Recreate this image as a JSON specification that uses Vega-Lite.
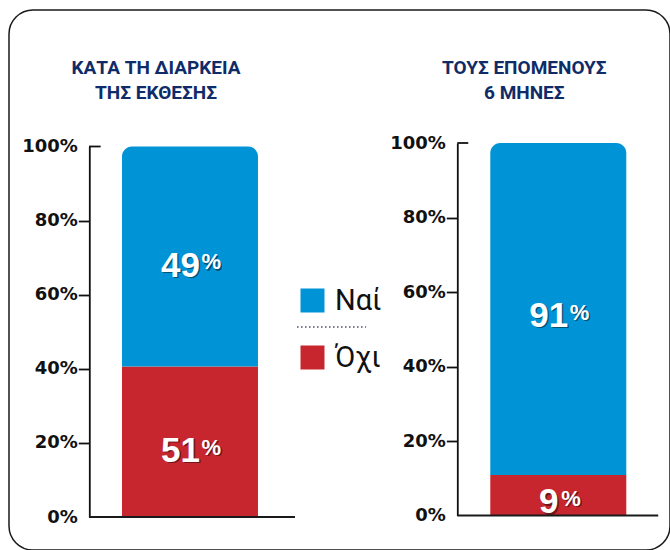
{
  "$schema": "https://vega.github.io/schema/vega-lite/v6.json",
  "width": 661,
  "height": 540,
  "autosize": {"type": "none"},
  "padding": {"left": 9, "top": 10, "right": 0, "bottom": 0},
  "background": "white",
  "config": {"view": {"stroke": "#1a1a1a", "strokeWidth": 1.5, "cornerRadius": 24}},
  "datasets": {
    "bars": [
      {"group": "Κατά τη διάρκεια της έκθεσης", "answer": "Ναί", "value": 59.4, "label": "49"},
      {"group": "Κατά τη διάρκεια της έκθεσης", "answer": "Όχι", "value": 40.6, "label": "51"},
      {"group": "Τους επόμενους 6 μήνες", "answer": "Ναί", "value": 89.1, "label": "91"},
      {"group": "Τους επόμενους 6 μήνες", "answer": "Όχι", "value": 10.9, "label": "9"}
    ],
    "titles": [
      {"group": "Κατά τη διάρκεια της έκθεσης", "title": "ΚΑΤΑ ΤΗ ΔΙΑΡΚΕΙΑ\nΤΗΣ ΕΚΘΕΣΗΣ"},
      {"group": "Τους επόμενους 6 μήνες", "title": "ΤΟΥΣ ΕΠΟΜΕΝΟΥΣ\n6 ΜΗΝΕΣ"}
    ]
  },
  "layer": [
    {
      "layer": [
        {
          "data": {"name": "bars"},
          "transform": [
            {"filter": "datum.group == 'Κατά τη διάρκεια της έκθεσης'"},
            {"stack": "value", "groupby": ["group"], "sort": [{"field": "answer", "order": "ascending"}], "as": ["y0", "y1"]}
          ],
          "encoding": {
            "x": {"field": "group", "type": "nominal", "axis": null,
              "scale": {"domain": ["Κατά τη διάρκεια της έκθεσης", "Υπόμνημα", "Τους επόμενους 6 μήνες"], "paddingInner": 0.2615, "paddingOuter": 0.4255, "align": 0.721}},
            "y": {"field": "y1", "type": "quantitative",
              "scale": {"domain": [0, 100], "range": [507, 136.5]},
              "axis": {"orient": "left", "offset": -80.3, "values": [0, 20, 40, 60, 80, 100], "labelExpr": "datum.value + '%'", "title": null, "grid": false,
                "domainColor": "#111111", "domainWidth": 1.8, "tickColor": "#111111", "tickWidth": 1.8, "tickSize": 11,
                "tickOpacity": {"condition": {"test": "datum.value == 0 || datum.value == 100", "value": 0}, "value": 1},
                "labelFont": "DejaVu Sans", "labelFontWeight": "bold", "labelFontSize": 18, "labelColor": "#111111", "labelPadding": 1, "labelAlign": "right", "labelFlush": false, "labelOverlap": false}},
            "y2": {"field": "y0"},
            "color": {"field": "answer", "type": "nominal",
              "scale": {"domain": ["Ναί", "Όχι"], "range": ["#0093d6", "#c8262e"]},
              "legend": {"orient": "none", "legendX": 289, "legendY": 276, "title": null, "symbolType": "square", "symbolSize": 576, "symbolStrokeWidth": 0, "symbolOpacity": 1,
                "labelFont": "Roboto", "labelFontSize": 29, "labelColor": "#111111", "labelOffset": 8, "labelLimit": 300, "rowPadding": 27, "padding": 0}}
          },
          "layer": [
            {"transform": [{"filter": "datum.answer == 'Όχι'"}], "mark": {"type": "bar"}},
            {"transform": [{"filter": "datum.answer == 'Ναί'"}], "mark": {"type": "bar", "cornerRadiusTopLeft": 10, "cornerRadiusTopRight": 10}}
          ]
        },
        {
          "data": {"name": "bars"},
          "transform": [
            {"filter": "datum.group == 'Κατά τη διάρκεια της έκθεσης'"},
            {"stack": "value", "groupby": ["group"], "sort": [{"field": "answer", "order": "ascending"}], "as": ["y0", "y1"]},
            {"fold": ["y0", "y1"], "as": ["edge", "pos"]}
          ],
          "encoding": {
            "x": {"field": "group", "type": "nominal"},
            "y": {"aggregate": "mean", "field": "pos", "type": "quantitative"},
            "detail": {"field": "label", "type": "nominal"}
          },
          "layer": [
            {"mark": {"type": "text", "font": "Liberation Sans", "fontWeight": "bold", "fontSize": 35, "baseline": "middle", "align": "center", "dx": -8, "dy": 10.5, "fill": "#000000", "fillOpacity": 0.45}, "encoding": {"text": {"field": "label"}}},
            {"mark": {"type": "text", "font": "Liberation Sans", "fontWeight": "bold", "fontSize": 35, "baseline": "middle", "align": "center", "dx": -9.5, "dy": 9, "fill": "#ffffff"}, "encoding": {"text": {"field": "label"}}},
            {"mark": {"type": "text", "font": "Liberation Sans", "fontWeight": "bold", "fontSize": 22, "baseline": "middle", "align": "left", "dx": {"expr": "length(datum.label) > 1 ? 13 : 4.5"}, "dy": 7.3, "fill": "#000000", "fillOpacity": 0.45}, "encoding": {"text": {"value": "%"}}},
            {"mark": {"type": "text", "font": "Liberation Sans", "fontWeight": "bold", "fontSize": 22, "baseline": "middle", "align": "left", "dx": {"expr": "length(datum.label) > 1 ? 11.5 : 3"}, "dy": 5.8, "fill": "#ffffff"}, "encoding": {"text": {"value": "%"}}}
          ]
        },
        {
          "data": {"values": [{}]},
          "mark": {"type": "rule", "color": "#1a1a1a", "strokeWidth": 2},
          "encoding": {
            "x": {"datum": "Κατά τη διάρκεια της έκθεσης", "type": "nominal", "bandPosition": -0.2426},
            "x2": {"datum": "Κατά τη διάρκεια της έκθεσης", "bandPosition": 1.272},
            "y": {"datum": 0, "type": "quantitative"}
          }
        },
        {
          "data": {"values": [{}]},
          "mark": {"type": "rule", "color": "#111111", "strokeWidth": 1.8},
          "encoding": {
            "x": {"datum": "Κατά τη διάρκεια της έκθεσης", "type": "nominal", "bandPosition": -0.2426},
            "x2": {"datum": "Κατά τη διάρκεια της έκθεσης", "bandPosition": -0.157},
            "y": {"datum": 100, "type": "quantitative"}
          }
        },
        {
          "data": {"values": [{}]},
          "mark": {"type": "rule", "color": "#4a4f66", "strokeWidth": 1.5, "strokeDash": [1.5, 2.5]},
          "encoding": {
            "x": {"datum": "Υπόμνημα", "type": "nominal", "bandPosition": -0.067},
            "x2": {"datum": "Υπόμνημα", "bandPosition": 0.44},
            "y": {"datum": 51.3, "type": "quantitative"}
          }
        },
        {
          "data": {"name": "titles"},
          "mark": {"type": "text", "font": "Roboto", "fontWeight": "bold", "fontSize": 19, "fill": "#0f2c69", "align": "center", "baseline": "alphabetic", "lineBreak": "\n", "lineHeight": 25},
          "encoding": {
            "x": {"field": "group", "type": "nominal", "bandPosition": 0.25},
            "y": {"datum": 119.6, "type": "quantitative"},
            "text": {"field": "title"}
          }
        }
      ]
    },
    {
      "layer": [
        {
          "data": {"name": "bars"},
          "transform": [
            {"filter": "datum.group == 'Τους επόμενους 6 μήνες'"},
            {"stack": "value", "groupby": ["group"], "sort": [{"field": "answer", "order": "ascending"}], "as": ["y0", "y1"]}
          ],
          "encoding": {
            "x": {"field": "group", "type": "nominal"},
            "y": {"field": "y1", "type": "quantitative",
              "scale": {"domain": [0, 100], "range": [505.5, 133]},
              "axis": {"orient": "left", "offset": -448.3, "values": [0, 20, 40, 60, 80, 100], "labelExpr": "datum.value + '%'", "title": null, "grid": false,
                "domainColor": "#111111", "domainWidth": 1.8, "tickColor": "#111111", "tickWidth": 1.8, "tickSize": 11,
                "tickOpacity": {"condition": {"test": "datum.value == 0 || datum.value == 100", "value": 0}, "value": 1},
                "labelFont": "DejaVu Sans", "labelFontWeight": "bold", "labelFontSize": 18, "labelColor": "#111111", "labelPadding": 1, "labelAlign": "right", "labelFlush": false, "labelOverlap": false}},
            "y2": {"field": "y0"},
            "color": {"field": "answer", "type": "nominal"}
          },
          "layer": [
            {"transform": [{"filter": "datum.answer == 'Όχι'"}], "mark": {"type": "bar"}},
            {"transform": [{"filter": "datum.answer == 'Ναί'"}], "mark": {"type": "bar", "cornerRadiusTopLeft": 10, "cornerRadiusTopRight": 10}}
          ]
        },
        {
          "data": {"name": "bars"},
          "transform": [
            {"filter": "datum.group == 'Τους επόμενους 6 μήνες'"},
            {"stack": "value", "groupby": ["group"], "sort": [{"field": "answer", "order": "ascending"}], "as": ["y0", "y1"]},
            {"fold": ["y0", "y1"], "as": ["edge", "pos"]}
          ],
          "encoding": {
            "x": {"field": "group", "type": "nominal"},
            "y": {"aggregate": "mean", "field": "pos", "type": "quantitative"},
            "detail": {"field": "label", "type": "nominal"}
          },
          "layer": [
            {"mark": {"type": "text", "font": "Liberation Sans", "fontWeight": "bold", "fontSize": 35, "baseline": "middle", "align": "center", "dx": -8, "dy": 8.5, "fill": "#000000", "fillOpacity": 0.45}, "encoding": {"text": {"field": "label"}}},
            {"mark": {"type": "text", "font": "Liberation Sans", "fontWeight": "bold", "fontSize": 35, "baseline": "middle", "align": "center", "dx": -9.5, "dy": 7, "fill": "#ffffff"}, "encoding": {"text": {"field": "label"}}},
            {"mark": {"type": "text", "font": "Liberation Sans", "fontWeight": "bold", "fontSize": 22, "baseline": "middle", "align": "left", "dx": {"expr": "length(datum.label) > 1 ? 13 : 4.5"}, "dy": 5.3, "fill": "#000000", "fillOpacity": 0.45}, "encoding": {"text": {"value": "%"}}},
            {"mark": {"type": "text", "font": "Liberation Sans", "fontWeight": "bold", "fontSize": 22, "baseline": "middle", "align": "left", "dx": {"expr": "length(datum.label) > 1 ? 11.5 : 3"}, "dy": 3.8, "fill": "#ffffff"}, "encoding": {"text": {"value": "%"}}}
          ]
        },
        {
          "data": {"values": [{}]},
          "mark": {"type": "rule", "color": "#1a1a1a", "strokeWidth": 2},
          "encoding": {
            "x": {"datum": "Τους επόμενους 6 μήνες", "type": "nominal", "bandPosition": -0.2426},
            "x2": {"datum": "Τους επόμενους 6 μήνες", "bandPosition": 1.235},
            "y": {"datum": 0, "type": "quantitative"}
          }
        },
        {
          "data": {"values": [{}]},
          "mark": {"type": "rule", "color": "#111111", "strokeWidth": 1.8},
          "encoding": {
            "x": {"datum": "Τους επόμενους 6 μήνες", "type": "nominal", "bandPosition": -0.2426},
            "x2": {"datum": "Τους επόμενους 6 μήνες", "bandPosition": -0.162},
            "y": {"datum": 100, "type": "quantitative"}
          }
        }
      ]
    }
  ],
  "resolve": {"scale": {"y": "independent"}, "axis": {"y": "independent"}}
}
